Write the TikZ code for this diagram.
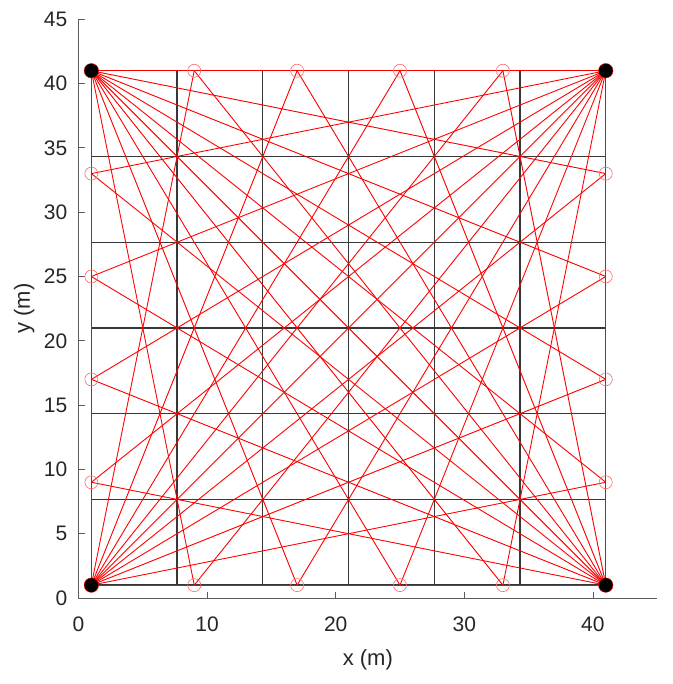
\documentclass[tikz,border=0pt]{standalone}
\usepackage{fontspec}
\setmainfont{Liberation Sans}
\definecolor{axgray}{RGB}{38,38,38}
\definecolor{gridgray}{RGB}{55,55,55}
\begin{document}
\begin{tikzpicture}[x=12.86pt,y=12.86pt,
  gridline/.style={draw=gridgray, line width=1.3pt},
  redline/.style={draw=red, line width=0.9pt},
  hollow/.style={circle, draw=red!60, line width=0.6pt, minimum size=13pt, inner sep=0pt},
  cornerdot/.style={circle, fill=black, draw=red, line width=0.4pt, minimum size=14.5pt, inner sep=0pt},
  axisline/.style={draw=axgray!75, line width=0.8pt},
  ticklab/.style={font=\fontsize{21}{25}\selectfont, text=axgray, inner sep=0pt},
  axlab/.style={font=\fontsize{22}{26}\selectfont, text=axgray, inner sep=0pt}]
\useasboundingbox (-78.5pt,-86pt) rectangle (593.5pt,598pt);

% axes
\draw[axisline] (0,45) -- (0,0) -- (45,0);
\foreach \v in {0,5,...,45} {
  \draw[axisline] (0,\v) -- ++(6pt,0);
  \node[ticklab, anchor=east] (yt\v) at ([xshift=-11pt]0,\v) {\v};
}
\foreach \v in {0,10,...,40} {
  \draw[axisline] (\v,0) -- ++(0,6pt);
  \node[ticklab, anchor=north] (xt\v) at ([yshift=-19pt]\v,0) {\v};
}
\node[axlab, anchor=base] (xlab) at ([yshift=-67pt]22.5,0) {x (m)};
\node[axlab, anchor=base, rotate=90] (ylab) at ([xshift=-48.5pt]0,22.5) {y (m)};

% grid
\foreach \k in {0,...,6} {
  \pgfmathsetmacro{\g}{1+40*\k/6}
  \draw[gridline] (\g,1) -- (\g,41);
  \draw[gridline] (1,\g) -- (41,\g);
}

% points
\coordinate (BL) at (1,1);
\coordinate (BR) at (41,1);
\coordinate (TL) at (1,41);
\coordinate (TR) at (41,41);
\foreach \i/\p in {1/9,2/17,3/25,4/33} {
  \coordinate (T\i) at (\p,41);
  \coordinate (B\i) at (\p,1);
  \coordinate (L\i) at (1,\p);
  \coordinate (R\i) at (41,\p);
}

% red connectors
\foreach \i in {1,...,4} {
  \draw[redline] (BL) -- (T\i);
  \draw[redline] (BL) -- (R\i);
  \draw[redline] (BR) -- (T\i);
  \draw[redline] (BR) -- (L\i);
  \draw[redline] (TL) -- (B\i);
  \draw[redline] (TL) -- (R\i);
  \draw[redline] (TR) -- (B\i);
  \draw[redline] (TR) -- (L\i);
}
\draw[redline] (BL) -- (TR);
\draw[redline] (BR) -- (TL);
\draw[redline, line width=0.7pt] (BL) -- (BR) -- (TR) -- (TL) -- cycle;

% markers
\foreach \i in {1,...,4} {
  \node[hollow] (cT\i) at (T\i) {};
  \node[hollow] (cB\i) at (B\i) {};
  \node[hollow] (cL\i) at (L\i) {};
  \node[hollow] (cR\i) at (R\i) {};
}
\node[cornerdot] (dBL) at (BL) {};
\node[cornerdot] (dBR) at (BR) {};
\node[cornerdot] (dTL) at (TL) {};
\node[cornerdot] (dTR) at (TR) {};
\end{tikzpicture}
\end{document}
